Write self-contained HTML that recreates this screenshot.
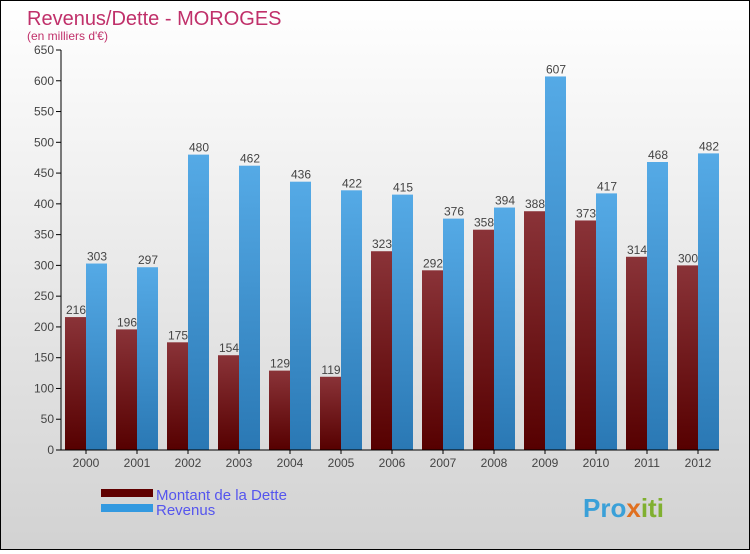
<!DOCTYPE html>
<html><head><meta charset="utf-8"><style>
body{margin:0;width:750px;height:550px;overflow:hidden;font-family:"Liberation Sans",sans-serif}
#wrap{position:relative;width:748px;height:548px;border:1px solid #000;background:linear-gradient(#fff,#d2d2d2)}
</style></head><body>
<div id="wrap">
<svg id="chart" width="748" height="548">
<defs>
<linearGradient id="gd" x1="0" y1="0" x2="0" y2="1"><stop offset="0" stop-color="#8a3338"/><stop offset="1" stop-color="#560000"/></linearGradient>
<linearGradient id="gr" x1="0" y1="0" x2="0" y2="1"><stop offset="0" stop-color="#55aae6"/><stop offset="1" stop-color="#2a78b4"/></linearGradient>
</defs>
<text x="26" y="24" font-size="20" fill="#c0306a">Revenus/Dette - MOROGES</text>
<text x="26" y="39" font-size="12" fill="#c0306a">(en milliers d'€)</text>
<g id="plot"></g>
<rect x="100" y="488" width="52" height="8" fill="#600000"/>
<rect x="100" y="503" width="52" height="8" fill="#3399e0"/>
<text x="155" y="499" font-size="15" fill="#5555ee">Montant de la Dette</text>
<text x="155" y="514" font-size="15" fill="#5555ee">Revenus</text>
<text x="582" y="516" font-size="26" font-weight="bold" fill="#3aa0d8">Pro<tspan fill="#e07020">x</tspan><tspan fill="#80b030">iti</tspan></text>
</svg>
</div>
<script>
const years=["2000","2001","2002","2003","2004","2005","2006","2007","2008","2009","2010","2011","2012"];
const dette=[216,196,175,154,129,119,323,292,358,388,373,314,300];
const revenus=[303,297,480,462,436,422,415,376,394,607,417,468,482];
const yTicks=[0,50,100,150,200,250,300,350,400,450,500,550,600,650];
const NS="http://www.w3.org/2000/svg";
const g=document.getElementById('plot');
const y0=449,yTop=49,yMax=650;
const Y=v=>y0-v*(y0-yTop)/yMax;
const X=i=>64+i*51;
function el(t,a){const e=document.createElementNS(NS,t);for(const k in a)e.setAttribute(k,a[k]);g.appendChild(e);return e;}
yTicks.forEach(t=>{
 const l=el('line',{x1:55,x2:60,y1:Y(t),y2:Y(t),stroke:'#000'});
 
 
 const tx=el('text',{x:53,y:Y(t)+4,'font-size':12,fill:'#444','text-anchor':'end'});
 tx.textContent=t;
 
 
});
years.forEach((yr,i)=>{
 const x=X(i);
 const d=el('rect',{x:x,y:Y(dette[i]),width:21,height:y0-Y(dette[i]),fill:'url(#gd)'});
 
 
 const r=el('rect',{x:x+21,y:Y(revenus[i]),width:21,height:y0-Y(revenus[i]),fill:'url(#gr)'});
 
 
 const t1=el('text',{x:x+11,y:Y(dette[i])-3,'font-size':12,fill:'#444','text-anchor':'middle'});
 t1.textContent=dette[i];
 
 
 const t2=el('text',{x:x+32,y:Y(revenus[i])-3,'font-size':12,fill:'#444','text-anchor':'middle'});
 t2.textContent=revenus[i];
 
 
 const tk=el('line',{x1:x+21,x2:x+21,y1:y0,y2:y0+4,stroke:'#000'});
 
 
 const xl=el('text',{x:x+21,y:466,'font-size':12,fill:'#444','text-anchor':'middle'});
 xl.textContent=yr;
 
 
});
const ya=el('line',{x1:60,x2:60,y1:yTop,y2:y0,stroke:'#000'});


const xa=el('line',{x1:60,x2:718,y1:y0,y2:y0,stroke:'#000'});


</script>
</body></html>
